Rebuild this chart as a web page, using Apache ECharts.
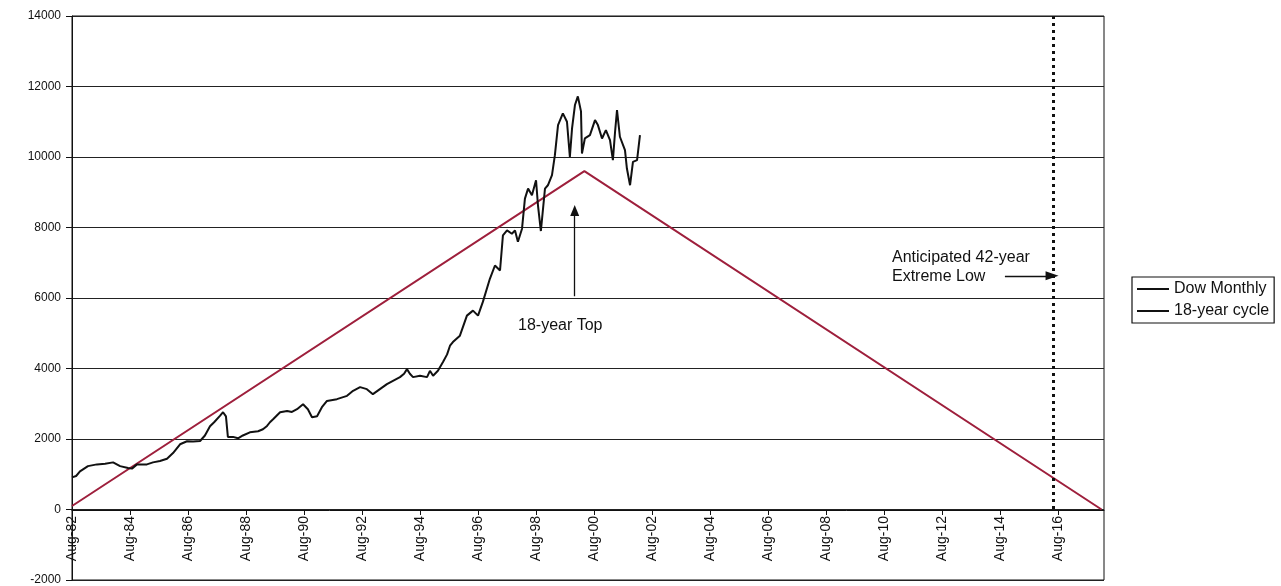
<!DOCTYPE html>
<html>
<head>
<meta charset="utf-8">
<script src="https://cdn.jsdelivr.net/npm/echarts@6/dist/echarts.min.js"></script>
<style>
html,body{margin:0;padding:0;background:#fff;}
#chart{width:1281px;height:586px;}
</style>
</head>
<body>
<div id="chart"></div>
<script>
// x values are months since Aug-1982
const xTickLabels = ['Aug-82','Aug-84','Aug-86','Aug-88','Aug-90','Aug-92','Aug-94','Aug-96','Aug-98','Aug-00','Aug-02','Aug-04','Aug-06','Aug-08','Aug-10','Aug-12','Aug-14','Aug-16'];
const yTicks = [-2000, 0, 2000, 4000, 6000, 8000, 10000, 12000, 14000];

const dowMonths = [0,1.7,3.3,6.6,10.3,13.7,17,19.9,23.2,24.8,26.9,31,33.5,36.4,39.3,41.8,44.7,47.6,50.1,53,55,57.1,58.8,61.2,62.5,63.7,64.5,66.6,68.7,70.7,73.6,77,79,80.7,81.9,83.2,86.1,89,91,93.1,95.6,97.6,99.3,101.4,103.4,105.5,109.6,113.8,116.3,119.2,122,124.5,127.4,130.3,132.8,135.7,137.4,138.6,139.8,141.1,144,146.9,148.1,149.4,151.4,153.5,155.2,156.4,157.6,160.5,163.4,165.9,168,170,172.9,175,177.1,178.3,180,182,183.3,184.5,186.2,187.4,188.7,190.3,192,192.8,194,195.7,196.9,198.6,199.8,201.1,203.1,204.8,206,206.9,208.1,209.3,210.6,211,212.2,214.3,216.4,217.6,219.3,220.9,222.6,223.8,224.7,225.5,226.7,228.8,229.6,230.9,232.1,233.8,235];
const dowValues = [910,950,1080,1230,1280,1300,1337,1230,1180,1160,1280,1280,1337,1375,1440,1600,1850,1935,1930,1943,2100,2361,2475,2654,2760,2640,2060,2060,2020,2100,2190,2220,2276,2370,2475,2560,2760,2797,2768,2845,2987,2845,2617,2646,2902,3081,3130,3224,3366,3471,3414,3272,3414,3556,3651,3755,3850,3983,3850,3755,3793,3755,3935,3793,3935,4182,4400,4646,4751,4931,5500,5642,5500,5889,6544,6922,6780,7775,7918,7824,7918,7596,7966,8820,9104,8914,9340,8630,7900,9104,9198,9483,10052,10905,11238,11000,10000,10811,11474,11720,11295,10100,10526,10621,11048,10905,10526,10763,10478,9910,10716,11333,10574,10194,9673,9200,9863,9910,10621];

const cycleMonths = [0, 212, 426];
const cycleValues = [100, 9600, 0];

// annotation anchors (data coords)
const topArrow = {month: 208, from: 6050, to: 8480};
const lowArrow = {from: 386, to: 405.5, value: 6630};
const lowMonth = 406;

const font = '"Liberation Sans", Arial, sans-serif';
const chart = echarts.init(document.getElementById('chart'));

chart.setOption({
  animation: false,
  backgroundColor: '#fff',
  grid: {left: 72, right: 177, top: 16, bottom: 6, show: true, borderColor: '#111', borderWidth: 1, outerBoundsMode: 'none'},
  legend: {
    orient: 'vertical', left: 1132, top: 277,
    backgroundColor: '#fff', borderColor: '#111', borderWidth: 1.2, borderRadius: 0,
    padding: [4, 5, 4, 5], itemGap: 6, itemWidth: 32, itemHeight: 2, icon: 'rect',
    textStyle: {fontFamily: font, fontSize: 16, color: '#111'},
    data: [
      {name: 'Dow Monthly', itemStyle: {color: '#111'}},
      {name: '18-year cycle', itemStyle: {color: '#111'}}
    ]
  },
  xAxis: {
    type: 'value', min: 0, max: 427, interval: 24, offset: -70,
    axisLine: {onZero: false, lineStyle: {color: '#111', width: 1}},
    axisTick: {show: true, inside: false, length: 5, lineStyle: {color: '#111'}},
    splitLine: {show: false},
    axisLabel: {
      rotate: 90, margin: 6, fontFamily: font, fontSize: 14, color: '#111',
      showMaxLabel: false, showMinLabel: true,
      formatter: function (v) { return xTickLabels[Math.round(v / 24)] || ''; }
    }
  },
  yAxis: {
    type: 'value', min: yTicks[0], max: yTicks[yTicks.length-1], interval: 2000,
    axisLine: {show: true, onZero: false, lineStyle: {color: '#111', width: 1}},
    axisTick: {show: true, inside: false, length: 6, lineStyle: {color: '#111'}},
    splitLine: {show: true, lineStyle: {color: '#222', width: 1}},
    axisLabel: {margin: 11, fontFamily: font, fontSize: 12, color: '#111', formatter: v => String(v)}
  },
  series: [
    {
      name: 'Dow Monthly', type: 'line', symbol: 'none', z: 3,
      lineStyle: {color: '#111', width: 2},
      itemStyle: {color: '#111'},
      data: dowMonths.map((m, i) => [m, dowValues[i]]),
      markLine: {
        silent: true, animation: false, label: {show: false},
        data: [
          [{coord: [lowMonth, 14000], symbol: 'none', lineStyle: {type: [3, 4], width: 3, color: '#111'}},
           {coord: [lowMonth, 0], symbol: 'none'}],
          [{coord: [topArrow.month, topArrow.from], symbol: 'none', lineStyle: {type: 'solid', width: 1.3, color: '#111'}},
           {coord: [topArrow.month, topArrow.to], symbol: 'triangle', symbolSize: [9, 11]}],
          [{coord: [lowArrow.from, lowArrow.value], symbol: 'none', lineStyle: {type: 'solid', width: 1.3, color: '#111'}},
           {coord: [lowArrow.to, lowArrow.value], symbol: 'triangle', symbolSize: [9, 13]}]
        ]
      }
    },
    {
      name: '18-year cycle', type: 'line', symbol: 'none', z: 2,
      lineStyle: {color: '#9e1f3c', width: 2},
      itemStyle: {color: '#9e1f3c'},
      data: cycleMonths.map((m, i) => [m, cycleValues[i]])
    }
  ],
  graphic: [
    {type: 'text', left: 518, top: 318, style: {text: '18-year Top', fontFamily: font, fontSize: 16, fill: '#111'}},
    {type: 'text', left: 892, top: 248, style: {text: 'Anticipated 42-year\nExtreme Low', fontFamily: font, fontSize: 16, lineHeight: 19, fill: '#111'}}
  ]
});
</script>
</body>
</html>
